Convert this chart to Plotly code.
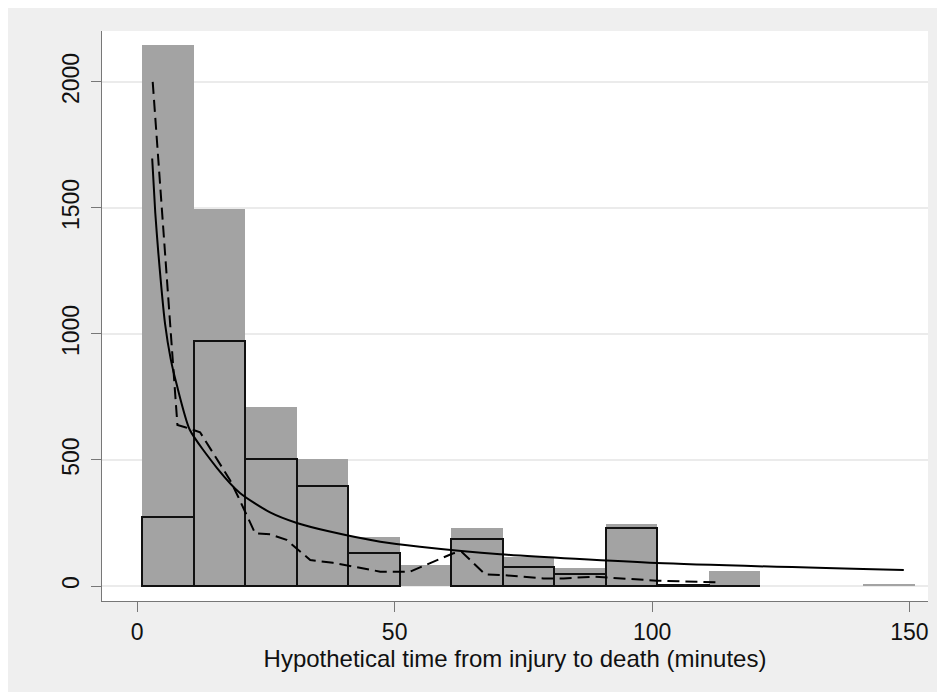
import plotly.graph_objects as go

# Histogram bins (width 10, starting at 1)
bin_centers = [6, 16, 26, 36, 46, 56, 66, 76, 86, 96, 106, 116, 126, 136, 146]
gray_counts = [2145, 1495, 711, 503, 194, 83, 231, 116, 73, 245, 3, 60, None, None, 8]
outline_counts = [275, 973, 505, 398, 130, None, 188, 74, 49, 230, 3, 2, None, None, None]

# Solid fitted curve
solid_x = [2.9, 3.5, 4.1, 5.4, 6.5, 7.65, 10.2, 15.5, 20, 25.8, 31, 37.4, 47.2, 54.9, 70.5, 100.9, 148.9]
solid_y = [1696, 1480, 1320, 1040, 900, 800, 620, 468, 368, 292, 250, 216, 176, 156, 126, 91, 63]

# Dashed curve
dash_x = [3, 7.8, 9.3, 12.2, 18, 19.6, 22.9, 25.8, 29, 33.6, 38, 47.2, 53, 61.4, 63, 67.6, 70.5, 78.9, 82.8, 88.6, 100.9, 112.6]
dash_y = [2000, 639, 630, 610, 421, 354, 209, 205, 183, 103, 92, 57, 57, 130, 136, 46, 44, 30, 30, 37, 21, 15]

x_ticks = [0, 50, 100, 150]
y_ticks = [0, 500, 1000, 1500, 2000]
x_title = "Hypothetical time from injury to death (minutes)"

fig = go.Figure()
fig.add_trace(go.Bar(x=bin_centers, y=gray_counts, width=10,
                     marker=dict(color="#a3a3a3", line=dict(width=0)), showlegend=False))
fig.add_trace(go.Bar(x=bin_centers, y=outline_counts, width=10,
                     marker=dict(color="rgba(0,0,0,0)", line=dict(color="#111111", width=2)),
                     showlegend=False))
fig.add_trace(go.Scatter(x=solid_x, y=solid_y, mode="lines",
                         line=dict(color="black", width=2, shape="spline", smoothing=0.6),
                         showlegend=False))
fig.add_trace(go.Scatter(x=dash_x, y=dash_y, mode="lines",
                         line=dict(color="black", width=2, dash="12px,6px"),
                         showlegend=False))

W, H = 945, 692
L, R, T, B = 94, 25, 23, 99

fig.update_layout(
    width=W, height=H,
    margin=dict(l=L, r=R, t=T, b=B),
    paper_bgcolor="#efefef",
    plot_bgcolor="white",
    barmode="overlay",
    bargap=0,
    font=dict(family="Liberation Sans, Arial, sans-serif", color="#111111"),
    xaxis=dict(
        range=[-6.85, 153.6], tickvals=x_ticks, ticktext=[str(v) for v in x_ticks],
        showgrid=False, zeroline=False, showline=True, linecolor="#777777", linewidth=1,
        ticks="outside", ticklen=10, tickcolor="#777777", tickwidth=1,
        tickfont=dict(size=23), title=dict(text=x_title, font=dict(size=24), standoff=2),
    ),
    yaxis=dict(
        range=[-59.5, 2202], tickvals=y_ticks, ticktext=[str(v) for v in y_ticks],
        showgrid=True, gridcolor="#ebebeb", gridwidth=1.5, zeroline=False,
        showline=True, linecolor="#777777", linewidth=1,
        ticks="outside", ticklen=10, tickcolor="#777777", tickwidth=1,
        tickangle=-90, tickfont=dict(size=23), ticklabelstandoff=3,
    ),
)

fig.write_html("out.html")
